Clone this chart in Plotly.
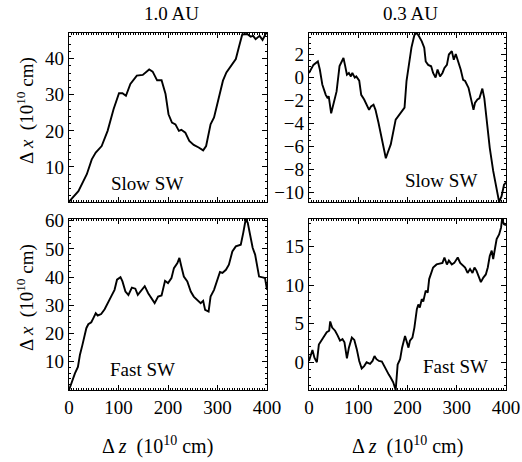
import plotly.graph_objects as go

# ---------------- data ----------------
slow10_z = [0, 2, 19, 36, 46, 54, 66, 78, 90, 101, 108, 115, 124, 137, 149, 162, 169, 178, 187, 195,
            201, 208, 215, 222, 227, 235, 243, 252, 262, 271, 277, 286, 293, 302, 311, 318, 328, 337,
            343, 350, 360, 367, 372, 377, 385, 391, 398, 400]
slow10_x = [0.3, 0.7, 3.3, 8.0, 12.1, 14.0, 15.8, 20.0, 26.0, 30.4, 30.4, 29.7, 33.0, 35.3, 35.5, 37.0,
            36.4, 34.0, 34.0, 30.2, 24.6, 22.3, 21.8, 20.0, 20.3, 19.5, 17.2, 16.1, 15.4, 14.6, 15.8,
            21.8, 23.7, 28.8, 33.9, 36.2, 38.0, 39.9, 43.1, 46.7, 46.8, 46.1, 46.3, 45.4, 46.3, 45.2,
            47.0, 47.1]

slow03_z = [0, 9, 18, 22, 27, 34, 38, 40, 45, 51, 56, 62, 66, 70, 73, 77, 81, 85, 88, 93, 96, 102,
            106, 112, 122, 126, 131, 135, 141, 148, 156, 160, 166, 176, 185, 194, 198, 203, 208, 214,
            219, 223, 229, 234, 237, 242, 248, 252, 257, 261, 266, 271, 275, 280, 284, 290, 294, 298,
            303, 308, 313, 317, 324, 329, 334, 337, 342, 346, 352, 356, 361, 367, 374, 379, 383, 386,
            391, 396, 400]
slow03_x = [0.4, 1.1, 1.4, 0.7, -0.6, -1.5, -1.8, -1.6, -3.1, -1.9, -1.2, 1.0, 1.4, 1.7, 1.1, 0.25,
            0.4, 0.1, 0.4, 0.0, 0.1, -0.27, -1.5, -1.9, -2.8, -2.5, -2.35, -2.8, -3.9, -5.5, -7.0,
            -6.5, -5.8, -3.65, -3.07, -2.6, -0.3, 1.4, 2.6, 3.7, 3.87, 3.6, 3.15, 2.6, 1.4, 1.1, 0.98,
            0.4, 0.0, 0.7, 0.1, 0.4, 0.83, 1.1, 2.0, 2.3, 1.55, 2.05, 1.4, 0.7, -0.2, -0.3, -0.9, -1.8,
            -2.8, -2.2, -1.9, -1.8, -0.96, -1.8, -3.8, -6.1, -8.1, -9.3, -10.15, -10.8, -10.3, -9.3,
            -9.1]

fast10_z = [0, 2, 7, 12, 18, 22, 27, 31, 35, 39, 45, 49, 54, 58, 65, 72, 79, 85, 92, 97, 104, 108,
            114, 120, 127, 134, 139, 146, 153, 160, 166, 173, 180, 187, 194, 200, 207, 212, 219, 223,
            227, 232, 239, 246, 252, 259, 266, 271, 275, 282, 286, 293, 300, 305, 310, 317, 323, 330,
            337, 347, 352, 357, 361, 365, 371, 376, 381, 384, 391, 396, 400]
fast10_x = [0.0, 1.1, 3.5, 5.9, 8.2, 12.4, 15.9, 18.9, 21.9, 23.3, 24.0, 25.4, 27.2, 26.4, 26.9,
            28.6, 30.8, 33.1, 35.5, 39.1, 40.0, 38.5, 34.9, 33.7, 36.3, 35.9, 33.7, 35.2, 36.8, 34.3,
            32.8, 30.8, 33.1, 33.5, 38.7, 37.9, 39.7, 43.2, 45.0, 46.8, 43.8, 40.2, 38.5, 34.9, 33.1,
            32.0, 30.8, 31.6, 28.4, 27.8, 33.1, 35.5, 39.7, 41.8, 41.5, 42.6, 44.4, 49.1, 50.9, 51.5,
            55.7, 60.5, 59.3, 55.1, 50.4, 48.0, 43.8, 40.2, 39.9, 39.7, 35.5]

fast03_z = [0, 4, 7, 11, 16, 20, 26, 31, 36, 41, 43, 47, 53, 58, 63, 68, 72, 77, 81, 87, 92, 97, 102,
            107, 112, 117, 124, 129, 133, 137, 142, 148, 153, 158, 162, 166, 171, 176, 180, 185, 189,
            195, 198, 202, 205, 210, 214, 219, 222, 225, 229, 232, 237, 241, 244, 248, 252, 259, 266,
            271, 275, 280, 284, 290, 295, 302, 307, 311, 317, 322, 327, 332, 336, 340, 345, 349, 354,
            359, 363, 367, 371, 374, 378, 381, 386, 390, 392, 396, 400]
fast03_x = [0.17, 1.0, 1.6, 0.6, 0.0, 2.3, 2.9, 3.4, 3.9, 4.1, 5.3, 4.5, 4.1, 3.5, 2.8, 3.0, 2.6,
            0.5, 1.9, 3.2, 2.9, 1.7, 0.17, -0.8, -0.5, 0.0, -0.2, 0.17, 0.8, 0.4, 0.17, 0.1, -0.5,
            -1.3, -1.6, -2.0, -2.6, -3.6, -0.3, 0.4, 1.9, 3.4, 2.6, 1.9, 2.8, 3.2, 4.5, 6.9, 7.5, 7.1,
            8.2, 7.9, 9.3, 9.05, 10.8, 11.6, 12.3, 12.7, 12.8, 12.9, 13.6, 12.7, 13.2, 12.7, 12.9, 13.6,
            12.9, 12.7, 12.3, 11.6, 12.1, 11.6, 12.3, 11.9, 11.0, 10.4, 11.0, 11.4, 12.3, 13.8, 14.5,
            13.4, 14.9, 16.0, 16.6, 17.5, 18.6, 17.9, 17.8]

col_titles = ["1.0 AU", "0.3 AU"]
panel_labels = ["Slow SW", "Slow SW", "Fast SW", "Fast SW"]
x_ticks = [0, 100, 200, 300, 400]
y_ticks = [[10, 20, 30, 40], [-10, -8, -6, -4, -2, 0, 2],
           [10, 20, 30, 40, 50, 60], [0, 5, 10, 15]]
y_ranges = [[0.3, 47.1], [-10.8, 3.87], [0, 60.6], [-3.6, 18.6]]
y_minor = [2, 0.5, 2, 1]

# ---------------- figure ----------------
FONT = "'Liberation Serif', 'Times New Roman', Times, serif"
FS = 19
W, H = 522, 462
boxes = [(69, 267, 33, 202), (309, 506, 33, 202), (69, 267, 219, 390), (309, 506, 219, 390)]

series = [(slow10_z, slow10_x), (slow03_z, slow03_x), (fast10_z, fast10_x), (fast03_z, fast03_x)]

fig = go.Figure()
layout = dict(
    width=W, height=H, margin=dict(l=0, r=0, t=0, b=0, pad=0, autoexpand=False),
    paper_bgcolor="white", plot_bgcolor="white", showlegend=False,
    font=dict(family=FONT, size=FS, color="black"),
)
annotations = []
for i, ((zs, xs), (x0, x1, y0, y1)) in enumerate(zip(series, boxes)):
    n = "" if i == 0 else str(i + 1)
    fig.add_trace(go.Scatter(x=zs, y=xs, mode="lines", line=dict(color="black", width=1.9),
                             xaxis="x" + n, yaxis="y" + n, hoverinfo="skip"))
    common = dict(showline=True, linecolor="black", linewidth=1.3, mirror="allticks",
                  ticks="inside", ticklen=5, tickwidth=1.1, tickcolor="black",
                  showgrid=False, zeroline=False, automargin=False,
                  tickfont=dict(family=FONT, size=FS, color="black"))
    layout["xaxis" + n] = dict(common, domain=[x0 / W, x1 / W], anchor="y" + n,
                               range=[0, 400], tickvals=x_ticks,
                               showticklabels=(i >= 2),
                               minor=dict(ticks="inside", ticklen=2, tickwidth=1, dtick=5,
                                          tickcolor="black"))
    layout["yaxis" + n] = dict(common, domain=[1 - y1 / H, 1 - y0 / H], anchor="x" + n,
                               range=y_ranges[i], tickvals=y_ticks[i],
                               minor=dict(ticks="inside", ticklen=2, tickwidth=1, dtick=y_minor[i],
                                          tickcolor="black"))
    lx = [0.394, 0.67, 0.372, 0.746][i]
    ly = [0.112, 0.13, 0.121, 0.136][i]
    annotations.append(dict(text=panel_labels[i], xref="x" + n + " domain", yref="y" + n + " domain",
                            x=lx, y=ly, showarrow=False, xanchor="center", yanchor="middle",
                            font=dict(family=FONT, size=FS)))

annotations.append(dict(text=col_titles[0], xref="paper", yref="paper", x=171 / W, y=1 - 14 / H,
                        showarrow=False, xanchor="center", yanchor="middle"))
annotations.append(dict(text=col_titles[1], xref="paper", yref="paper", x=410 / W, y=1 - 14 / H,
                        showarrow=False, xanchor="center", yanchor="middle"))
ytitle = "Δ <i>x</i>  (10<sup>10</sup> cm)"
for yc in [111, 298]:
    annotations.append(dict(text=ytitle, xref="paper", yref="paper", x=25 / W, y=1 - yc / H,
                            showarrow=False, textangle=-90, xanchor="center", yanchor="middle"))
xtitle = "Δ <i>z</i>  (10<sup>10</sup> cm)"
for xc in [157, 407]:
    annotations.append(dict(text=xtitle, xref="paper", yref="paper", x=xc / W, y=1 - 445 / H,
                            showarrow=False, xanchor="center", yanchor="middle",
                            font=dict(family=FONT, size=20)))

layout["annotations"] = annotations
fig.update_layout(**layout)
fig.write_html("out.html", config={"displayModeBar": False},
               post_script="document.body.style.margin='0px';document.body.style.overflow='hidden';")
